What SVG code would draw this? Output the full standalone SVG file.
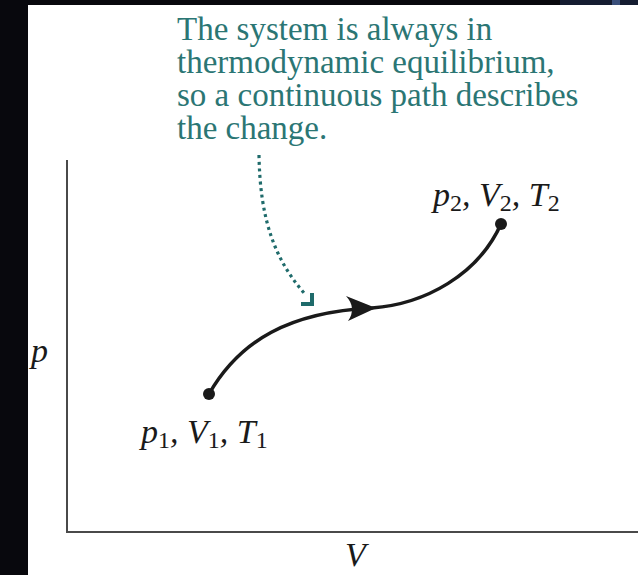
<svg xmlns="http://www.w3.org/2000/svg" width="638" height="575" viewBox="0 0 638 575">
<style>
.note{font-family:"Liberation Serif","Times New Roman",serif;font-size:33px;fill:#2b7674}
.lbl{font-family:"Liberation Serif","Times New Roman",serif;font-size:34px;fill:#1a1a1a;font-style:italic}
.sub{font-style:normal;font-size:24px}
.axis{stroke:#4a4a4a;stroke-width:2;fill:none}
.curve{stroke:#1a1a1a;stroke-width:3.5;fill:none;stroke-linecap:round}
.dots{stroke:#1f6b6b;stroke-width:3.2;fill:none;stroke-dasharray:3 3.6}
</style>
<rect x="0" y="0" width="638" height="575" fill="#ffffff"/>
<rect x="0" y="0" width="638" height="5" fill="#08080d"/>
<rect x="0" y="0" width="28" height="575" fill="#08080d"/>
<rect x="560" y="0" width="78" height="5" fill="#141c30"/>
<rect x="612" y="0" width="8" height="5" fill="#3a4f7a"/>
<g id="axes">
<line class="axis" x1="67" y1="160" x2="67" y2="532"/>
<line class="axis" x1="66" y1="532" x2="638" y2="532"/>
<text class="lbl" x="31" y="362">p</text>
<text class="lbl" x="345" y="566">V</text>
</g>
<g id="note">
<text class="note" x="177" y="40">The system is always in</text>
<text class="note" x="177" y="73">thermodynamic equilibrium,</text>
<text class="note" x="177" y="106">so a continuous path describes</text>
<text class="note" x="177" y="139">the change.</text>
</g>
<g id="state1">
<circle cx="209" cy="394" r="6" fill="#1a1a1a"/>
<text class="lbl" x="141" y="443">p<tspan class="sub" dy="5">1</tspan><tspan dy="-5">, V</tspan><tspan class="sub" dy="5">1</tspan><tspan dy="-5">, T</tspan><tspan class="sub" dy="5">1</tspan></text>
</g>
<g id="state2">
<circle cx="501" cy="224" r="6" fill="#1a1a1a"/>
<text class="lbl" x="433" y="206">p<tspan class="sub" dy="5">2</tspan><tspan dy="-5">, V</tspan><tspan class="sub" dy="5">2</tspan><tspan dy="-5">, T</tspan><tspan class="sub" dy="5">2</tspan></text>
</g>
<g id="connectors">
<path class="curve" d="M209,394 C240,340 290,312 372,308 C425,304 478,275 501,224"/>
<path d="M376,308 L346,296 Q357,308 348,321 Z" fill="#1a1a1a"/>
<path class="dots" d="M259,155 C260,220 275,260 305,294"/>
<polyline points="301,304 312,304 312,293" fill="none" stroke="#1f6b6b" stroke-width="4"/>
</g>
</svg>
